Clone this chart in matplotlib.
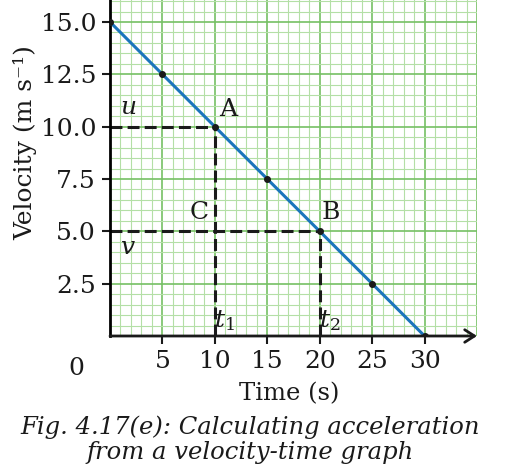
import numpy as np
import matplotlib
matplotlib.use("Agg")
import matplotlib.pyplot as plt

plt.rcParams['font.family'] = ['DejaVu Serif']
plt.rcParams['mathtext.fontset'] = 'dejavuserif'

# data
time_s = [0, 5, 10, 15, 20, 25, 30]
velocity = [15.0, 12.5, 10.0, 7.5, 5.0, 2.5, 0.0]
x_ticks = [5, 10, 15, 20, 25, 30]
y_ticks = [2.5, 5.0, 7.5, 10.0, 12.5, 15.0]
point_A = (10, 10.0)
point_B = (20, 5.0)

fig = plt.figure(figsize=(5.07, 4.66), dpi=100)
ax = fig.add_axes([110/507, 130/466, 367/507, 336/466])
ax.set_xlim(0, 35)
ax.set_ylim(0, 16.05)

# graph paper grid
for x in np.arange(1, 36, 1):
    major = x % 5 == 0
    ax.axvline(x, color='#76c064' if major else '#b4dfa6',
               lw=1.2 if major else 0.8, zorder=0)
for y in np.arange(0.5, 16.5, 0.5):
    major = abs(y / 2.5 - round(y / 2.5)) < 1e-6
    ax.axhline(y, color='#76c064' if major else '#b4dfa6',
               lw=1.2 if major else 0.8, zorder=0)

# the line and its points
ax.plot(time_s, velocity, color='#1b75bc', lw=2.2, zorder=3)
ax.plot(time_s, velocity, 'o', color='#1a1a1a', ms=4, zorder=4)

# dashed construction lines
dash = (0, (3.9, 1.7))
ax.plot([0, point_A[0]], [point_A[1], point_A[1]], color='#1a1a1a', lw=2.2, ls=dash, zorder=2)
ax.plot([point_A[0], point_A[0]], [0, point_A[1]], color='#1a1a1a', lw=2.2, ls=dash, zorder=2)
ax.plot([0, point_B[0]], [point_B[1], point_B[1]], color='#1a1a1a', lw=2.2, ls=dash, zorder=2)
ax.plot([point_B[0], point_B[0]], [0, point_B[1]], color='#1a1a1a', lw=2.2, ls=dash, zorder=2)

fs = 18
ax.text(11.3, 10.8, 'A', fontsize=fs, ha='center', va='center', color='#1a1a1a')
ax.text(21.05, 5.88, 'B', fontsize=fs, ha='center', va='center', color='#1a1a1a')
ax.text(8.5, 5.88, 'C', fontsize=fs, ha='center', va='center', color='#1a1a1a')
ax.text(1.7, 10.9, '$u$', fontsize=fs, ha='center', va='center', color='#1a1a1a')
ax.text(1.7, 4.25, '$v$', fontsize=fs, ha='center', va='center', color='#1a1a1a')
ax.text(10.95, 0.75, '$t_1$', fontsize=fs, ha='center', va='center', color='#1a1a1a')
ax.text(20.95, 0.75, '$t_2$', fontsize=fs, ha='center', va='center', color='#1a1a1a')

# axes
ax.spines['top'].set_visible(False)
ax.spines['right'].set_visible(False)
ax.spines['bottom'].set_visible(False)
ax.spines['left'].set_linewidth(2)
ax.annotate('', xy=(35, 0), xytext=(0, 0), annotation_clip=False,
            arrowprops=dict(arrowstyle='->,head_length=0.7,head_width=0.45',
                            lw=2, color='#1a1a1a', shrinkA=0, shrinkB=0))

ax.set_xticks(x_ticks)
ax.set_xticklabels([str(v) for v in x_ticks])
ax.set_yticks(y_ticks)
ax.set_yticklabels(['%.1f' % v for v in y_ticks])
ax.tick_params(axis='both', labelsize=fs, length=6, width=1.5, color='#1a1a1a',
               labelcolor='#1a1a1a', pad=4)
ax.text(-3.2, -1.55, '0', fontsize=fs, ha='center', va='center', color='#1a1a1a')

fig.text(25/507, 1 - 143/466, 'Velocity (m s⁻¹)', rotation=90, fontsize=fs,
         ha='center', va='center', color='#1a1a1a')
fig.text(289/507, 1 - 394/466, 'Time (s)', fontsize=17.5, ha='center', va='center',
         color='#1a1a1a')
fig.text(250/507, 1 - 427/466, 'Fig. 4.17(e): Calculating acceleration', fontsize=17.5,
         style='italic', ha='center', va='center', color='#1a1a1a')
fig.text(250/507, 1 - 452/466, 'from a velocity-time graph', fontsize=17.5,
         style='italic', ha='center', va='center', color='#1a1a1a')

fig.savefig('out.png', dpi=100)
